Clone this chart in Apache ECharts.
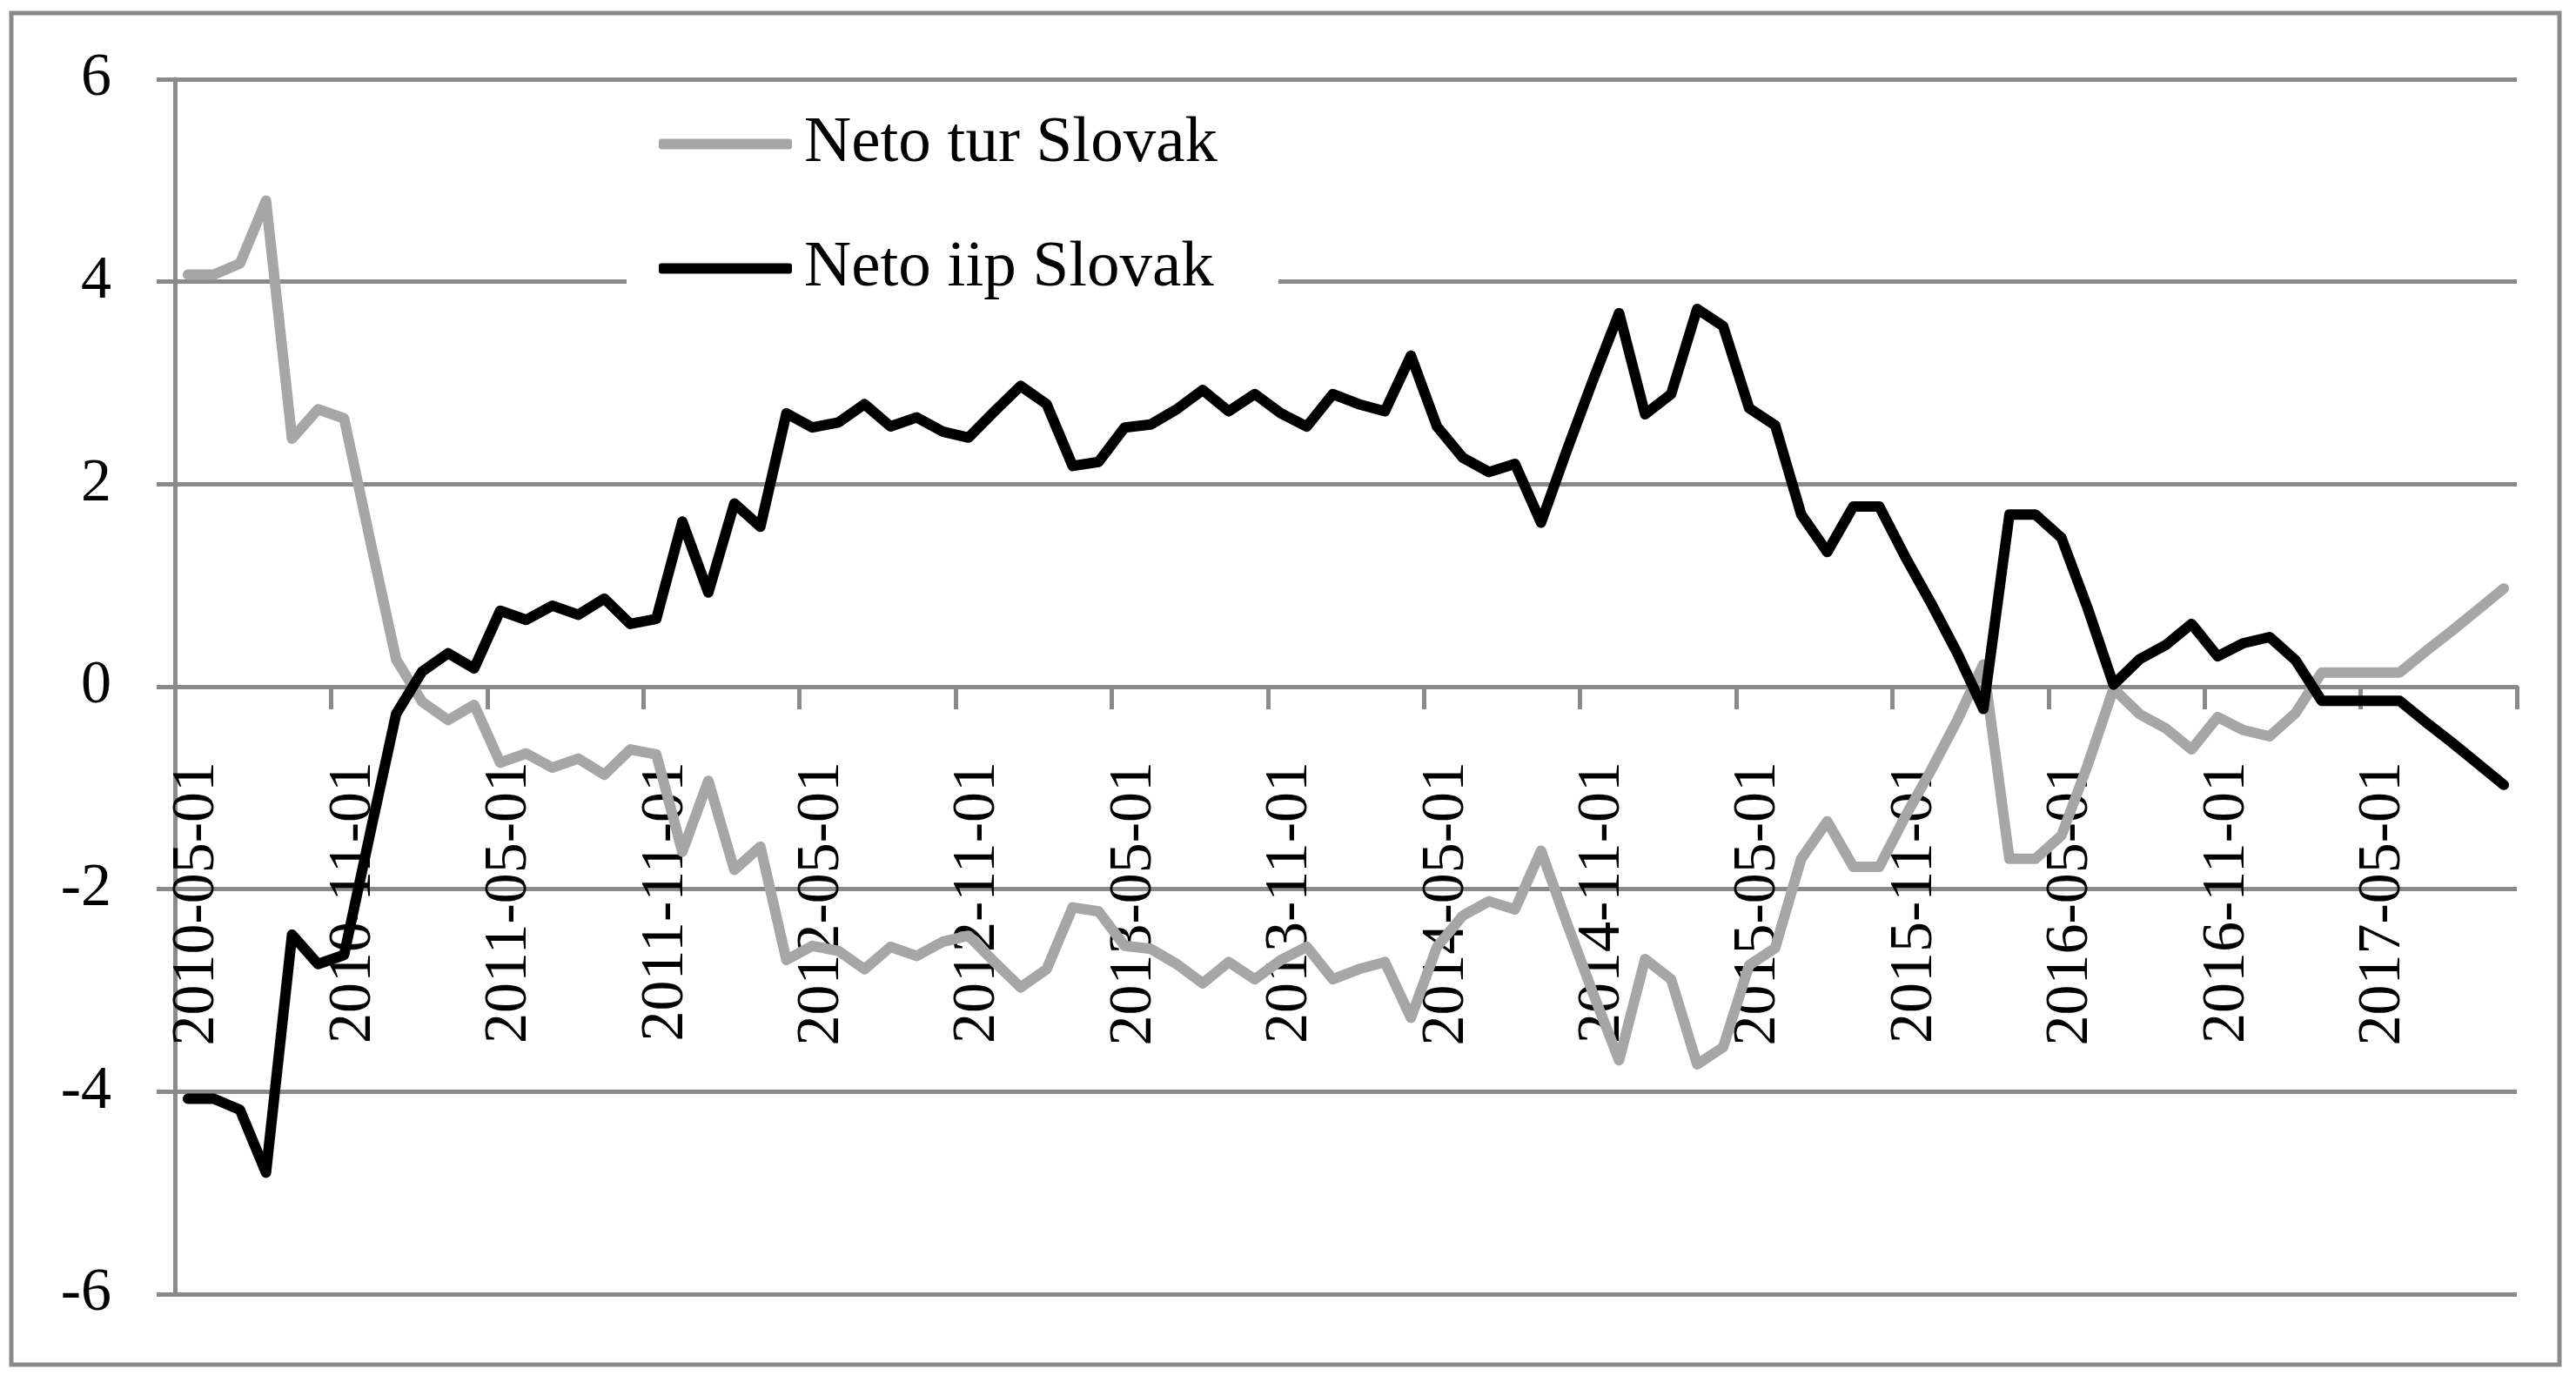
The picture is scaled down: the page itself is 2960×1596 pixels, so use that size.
<!DOCTYPE html>
<html><head><meta charset="utf-8">
<script src="https://cdn.jsdelivr.net/npm/echarts@6/dist/echarts.min.js"></script>
<style>html,body{margin:0;padding:0;background:#fff}#c{width:2960px;height:1596px}</style>
</head><body><div id="c"></div>
<script>
const categories = [
'2010-05-01','2010-06-01','2010-07-01','2010-08-01','2010-09-01','2010-10-01','2010-11-01','2010-12-01',
'2011-01-01','2011-02-01','2011-03-01','2011-04-01','2011-05-01','2011-06-01','2011-07-01','2011-08-01','2011-09-01','2011-10-01','2011-11-01','2011-12-01',
'2012-01-01','2012-02-01','2012-03-01','2012-04-01','2012-05-01','2012-06-01','2012-07-01','2012-08-01','2012-09-01','2012-10-01','2012-11-01','2012-12-01',
'2013-01-01','2013-02-01','2013-03-01','2013-04-01','2013-05-01','2013-06-01','2013-07-01','2013-08-01','2013-09-01','2013-10-01','2013-11-01','2013-12-01',
'2014-01-01','2014-02-01','2014-03-01','2014-04-01','2014-05-01','2014-06-01','2014-07-01','2014-08-01','2014-09-01','2014-10-01','2014-11-01','2014-12-01',
'2015-01-01','2015-02-01','2015-03-01','2015-04-01','2015-05-01','2015-06-01','2015-07-01','2015-08-01','2015-09-01','2015-10-01','2015-11-01','2015-12-01',
'2016-01-01','2016-02-01','2016-03-01','2016-04-01','2016-05-01','2016-06-01','2016-07-01','2016-08-01','2016-09-01','2016-10-01','2016-11-01','2016-12-01',
'2017-01-01','2017-02-01','2017-03-01','2017-04-01','2017-05-01','2017-06-01','2017-07-01','2017-08-01','2017-09-01','2017-10-01'
];
const netoTur = [
4.07,4.07,4.18,4.80,2.45,2.74,2.65,1.45,0.27,-0.15,-0.33,-0.18,-0.75,-0.66,-0.80,-0.71,-0.87,-0.62,-0.67,-1.63,
-0.93,-1.81,-1.58,-2.70,-2.56,-2.61,-2.79,-2.57,-2.66,-2.52,-2.46,-2.72,-2.97,-2.79,-2.18,-2.22,-2.56,-2.59,-2.74,-2.93,
-2.72,-2.89,-2.70,-2.57,-2.89,-2.79,-2.72,-3.27,-2.57,-2.26,-2.12,-2.20,-1.62,-2.34,-3.03,-3.69,-2.69,-2.89,-3.73,-3.56,
-2.75,-2.58,-1.70,-1.33,-1.78,-1.78,-1.28,-0.82,-0.33,0.22,-1.70,-1.70,-1.47,-0.78,-0.02,-0.27,-0.41,-0.62,-0.30,-0.43,
-0.49,-0.26,0.14,0.14,0.14,0.14,0.35,0.55,0.76,0.97
];
const netoIip = [
-4.07,-4.07,-4.18,-4.80,-2.45,-2.74,-2.65,-1.45,-0.27,0.15,0.33,0.18,0.75,0.66,0.80,0.71,0.87,0.62,0.67,1.63,
0.93,1.81,1.58,2.70,2.56,2.61,2.79,2.57,2.66,2.52,2.46,2.72,2.97,2.79,2.18,2.22,2.56,2.59,2.74,2.93,
2.72,2.89,2.70,2.57,2.89,2.79,2.72,3.27,2.57,2.26,2.12,2.20,1.62,2.34,3.03,3.69,2.69,2.89,3.73,3.56,
2.75,2.58,1.70,1.33,1.78,1.78,1.28,0.82,0.33,-0.22,1.70,1.70,1.47,0.78,0.02,0.27,0.41,0.62,0.30,0.43,
0.49,0.26,-0.14,-0.14,-0.14,-0.14,-0.35,-0.55,-0.76,-0.97
];
const yTicks = ['-6','-4','-2','0','2','4','6'];

const FONT = 'Liberation Serif';
const GRAY = '#8a8a8a';
const GRID_TOP = 91, GRID_BOTTOM = 109, H = 1596;
const zeroOffset = -((H - GRID_TOP - GRID_BOTTOM) / 2);
const chart = echarts.init(document.getElementById('c'), null, {renderer:'canvas'});
chart.setOption({
  animation:false,
  backgroundColor:'#fff',
  grid:{left:201, right:68, top:GRID_TOP, bottom:GRID_BOTTOM, containLabel:false, outerBoundsMode:'none'},
  graphic:[{type:'rect', shape:{x:13,y:15,width:2928,height:1553}, style:{fill:'none', stroke:GRAY, lineWidth:5}, silent:true, z:-1}],
  legend:{
    orient:'vertical', left:720, top:100,
    padding:[28,70,30,37],
    backgroundColor:'#fff',
    itemWidth:153, itemHeight:12, itemGap:68,
    icon:'roundRect',
    textStyle:{fontFamily:FONT, fontSize:75, lineHeight:70, color:'#000', padding:[0,0,0,9]},
    data:[
      {name:'Neto tur Slovak', itemStyle:{color:'#a6a6a6'}},
      {name:'Neto iip Slovak', itemStyle:{color:'#000000'}}
    ]
  },
  xAxis:{
    type:'category', data:categories, boundaryGap:true, position:'bottom', offset:zeroOffset,
    axisLine:{show:true, onZero:false, lineStyle:{color:GRAY, width:5}},
    axisTick:{show:true, interval:5, length:26, lineStyle:{color:GRAY, width:5}},
    axisLabel:{interval:5, rotate:90, margin:86, fontFamily:FONT, fontSize:70, color:'#000',
      verticalAlign:'top', lineHeight:22},
    splitLine:{show:false}
  },
  yAxis:{
    type:'value', min:-6, max:6, interval:2,
    axisLine:{show:true, lineStyle:{color:GRAY, width:5}},
    axisTick:{show:true, length:21, lineStyle:{color:GRAY, width:5}},
    axisLabel:{margin:73, fontFamily:FONT, fontSize:70, color:'#000',
      formatter:function(v){ const s=String(v); return yTicks.indexOf(s)>=0 ? s : ''; }},
    splitLine:{show:true, lineStyle:{color:GRAY, width:5}}
  },
  series:[
    {name:'Neto tur Slovak', type:'line', data:netoTur, symbol:'none', z:2,
     itemStyle:{color:'#a6a6a6'},
     lineStyle:{color:'#a6a6a6', width:12, cap:'round', join:'round'}},
    {name:'Neto iip Slovak', type:'line', data:netoIip, symbol:'none', z:3,
     itemStyle:{color:'#000000'},
     lineStyle:{color:'#000000', width:12, cap:'round', join:'round'}}
  ]
});
</script></body></html>
